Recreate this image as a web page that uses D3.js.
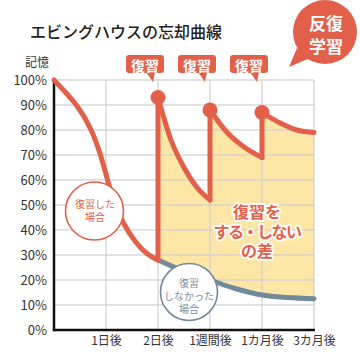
<!DOCTYPE html>
<html><head><meta charset="utf-8">
<script src="https://cdn.jsdelivr.net/npm/d3@7"></script>
<style>
html,body{margin:0;padding:0;background:#fff;}
svg{display:block;font-family:"Noto Sans CJK JP","Noto Sans",sans-serif;}
</style></head>
<body><svg id="c" width="360" height="362"></svg>
<script>
// ---- data ----
const xLabels = ["", "1日後", "2日後", "1週間後", "1カ月後", "3カ月後"];
const yTicks = [0,10,20,30,40,50,60,70,80,90,100];
// forgetting curve before first review (x index, % retained)
const forgetX = [0, 0.46, 0.73, 0.9, 1.03, 1.15, 1.32, 1.56, 1.8, 2.0];
const forgetY = [100, 90, 80, 70, 60, 51, 43, 35, 30, 28];
// after each review
const review1X = [2, 2.25, 2.5, 2.75, 3];
const review1Y = [93, 76, 65, 57, 52];
const review2X = [3, 3.33, 3.67, 4];
const review2Y = [88, 79, 73, 69];
const review3X = [4, 4.33, 4.67, 5];
const review3Y = [87, 83, 80, 79];
// no review
const noReviewX = [2, 2.5, 3, 3.5, 4, 4.5, 5];
const noReviewY = [28, 23.5, 20, 16.5, 14, 13, 12.5];
const reviewAtX = [2, 3, 4];
const reviewAtY = [93, 88, 87];

const RED = "#e2604a", GRAY = "#72899b", FILL = "#fde6a6";
const svg = d3.select("#c");
const x = d3.scaleLinear().domain([0,5]).range([54,314]);
const y = d3.scaleLinear().domain([0,100]).range([330,80]);
const pts = (xs, ys) => xs.map((v,i)=>[v, ys[i]]);
const lineM = d3.line().x(d=>x(d[0])).y(d=>y(d[1])).curve(d3.curveMonotoneX);

// fill between review curve and no-review curve
const fillTop = lineM(pts(review1X, review1Y)) + "L" + lineM(pts(review2X, review2Y)).slice(1) + "L" + lineM(pts(review3X, review3Y)).slice(1);
const nr = pts(noReviewX, noReviewY).slice().reverse();
const fillBottom = d3.line().x(d=>x(d[0])).y(d=>y(d[1])).curve(d3.curveMonotoneX)(nr);
svg.append("path").attr("d", fillTop + "L" + fillBottom.slice(1) + "Z").attr("fill", FILL);

// grid
const g = svg.append("g");
g.selectAll(".h").data(yTicks.filter(d=>d>0)).join("line")
  .attr("x1", x(0)).attr("x2", x(5)).attr("y1", d=>y(d)).attr("y2", d=>y(d))
  .attr("stroke", "#cfcfcf").attr("stroke-opacity",0.8).attr("stroke-width", 1.5);
g.selectAll(".v").data(d3.range(1,6)).join("line")
  .attr("x1", d=>x(d)).attr("x2", d=>x(d)).attr("y1", y(0)).attr("y2", y(100))
  .attr("stroke", "#cfcfcf").attr("stroke-opacity",0.8).attr("stroke-width", 1.5);

// axes
const yAxis = d3.axisLeft(y).tickValues(yTicks).tickFormat(d=>d+"%").tickSize(0).tickPadding(7);
const ya = svg.append("g").attr("transform", `translate(${x(0)},0)`).call(yAxis);
ya.select(".domain").remove();
ya.selectAll("text").attr("font-size", 13).attr("fill", "#333").attr("font-family","\"Noto Sans CJK JP\",sans-serif");
const xAxis = d3.axisBottom(x).tickValues([1,2,3,4,5]).tickFormat(d=>xLabels[d]).tickSize(0).tickPadding(6);
const xa = svg.append("g").attr("transform", `translate(0,${y(0)})`).call(xAxis);
xa.select(".domain").remove();
xa.selectAll("text").attr("font-size", 12).attr("fill", "#333").attr("font-family","\"Noto Sans CJK JP\",sans-serif");
svg.append("line").attr("x1", x(0)).attr("x2", x(0)).attr("y1", y(100)-1).attr("y2", y(0)+1.2).attr("stroke","#111").attr("stroke-width",2.5);
svg.append("line").attr("x1", x(0)-1.2).attr("x2", x(5)+1).attr("y1", y(0)).attr("y2", y(0)).attr("stroke","#111").attr("stroke-width",2.5);

// no review line
svg.append("path").attr("d", lineM(pts(noReviewX, noReviewY))).attr("fill","none")
  .attr("stroke", GRAY).attr("stroke-width", 5).attr("stroke-linecap","round");

// forgetting curve + reviews
const forget = pts(forgetX, forgetY);
svg.append("path").attr("d", d3.line().x(d=>x(d[0])).y(d=>y(d[1])).curve(d3.curveBasis)(forget)).attr("fill","none")
  .attr("stroke", RED).attr("stroke-width", 5).attr("stroke-linecap","round");
const vStarts = [forgetY[forgetY.length-1], review1Y[review1Y.length-1], review2Y[review2Y.length-1]];
svg.selectAll(".vert").data(reviewAtX).join("line")
  .attr("x1", d=>x(d)).attr("x2", d=>x(d)).attr("y1", (d,i)=>y(vStarts[i])).attr("y2", (d,i)=>y(reviewAtY[i]))
  .attr("stroke", RED).attr("stroke-width", 5).attr("stroke-linecap","round");
[pts(review1X, review1Y), pts(review2X, review2Y), pts(review3X, review3Y)].forEach(a=>{
  svg.append("path").attr("d", lineM(a)).attr("fill","none").attr("stroke", RED)
    .attr("stroke-width", 5).attr("stroke-linecap","round").attr("stroke-linejoin","round");
});
svg.selectAll(".dot").data(reviewAtX).join("circle")
  .attr("cx", d=>x(d)).attr("cy", (d,i)=>y(reviewAtY[i])).attr("r", 7.5).attr("fill", RED);

// 復習 labels
reviewAtX.forEach(d=>{
  const cx = x(d) - 13, tip = x(d) - 5;
  const lg = svg.append("g");
  lg.append("rect").attr("x", cx-19).attr("y", 55).attr("width", 38).attr("height", 18).attr("rx", 3).attr("fill", RED);
  lg.append("path").attr("d", `M${tip-7},72 L${tip+2},72 L${tip},82 Z`).attr("fill", RED);
  lg.append("text").attr("x", cx).attr("y", 64.5).attr("text-anchor","middle").attr("dominant-baseline","central")
    .attr("fill","#fff").attr("font-size", 14).attr("font-weight", 700).text("復習");
});

// title
svg.append("text").attr("x", 30).attr("y", 38).attr("font-size", 16).attr("font-weight", 500).attr("fill","#222")
  .text("エビングハウスの忘却曲線");
svg.append("text").attr("x", 25).attr("y", 67).attr("font-size", 12).attr("fill","#333").text("記憶");

// badge
svg.append("path").attr("d", "M297,48 L289,67 L310,58 Z").attr("fill", RED);
svg.append("circle").attr("cx", 325).attr("cy", 32).attr("r", 32).attr("fill", RED);
const bt = svg.append("text").attr("text-anchor","middle").attr("fill","#fff").attr("font-size", 17).attr("font-weight", 700);
bt.append("tspan").attr("x", 326).attr("y", 30).text("反復");
bt.append("tspan").attr("x", 326).attr("y", 53).text("学習");

// 復習した場合 bubble
svg.append("circle").attr("cx", 94.5).attr("cy", 211).attr("r", 29).attr("fill","#fff").attr("stroke", RED).attr("stroke-width",1.6);
const t1 = svg.append("text").attr("text-anchor","middle").attr("fill", RED).attr("font-size", 10);
t1.append("tspan").attr("x", 95).attr("y", 207.5).text("復習した");
t1.append("tspan").attr("x", 95).attr("y", 220.5).text("場合");
// 復習しなかった場合 bubble
svg.append("circle").attr("cx", 189).attr("cy", 292).attr("r", 28.5).attr("fill","#fff").attr("stroke", GRAY).attr("stroke-width",1.6);
const t2 = svg.append("text").attr("text-anchor","middle").attr("fill", "#7c8d9a").attr("font-size", 10);
[["復習",286.5],["しなかった",299.5],["場合",312.5]].forEach(([t,yy])=>t2.append("tspan").attr("x",189).attr("y",yy).text(t));

// difference label
const dt = svg.append("text").attr("text-anchor","middle")
  .attr("fill", RED).attr("stroke","#fff").attr("stroke-width",3.5).attr("paint-order","stroke")
  .attr("stroke-linejoin","round").attr("font-size", 16).attr("font-weight", 700);
dt.append("tspan").attr("x", 257).attr("y", 218).text("復習を");
dt.append("tspan").attr("x", 257).attr("y", 237.5).attr("letter-spacing", -1.5).text("する・しない");
dt.append("tspan").attr("x", 257).attr("y", 257).text("の差");
</script></body></html>
